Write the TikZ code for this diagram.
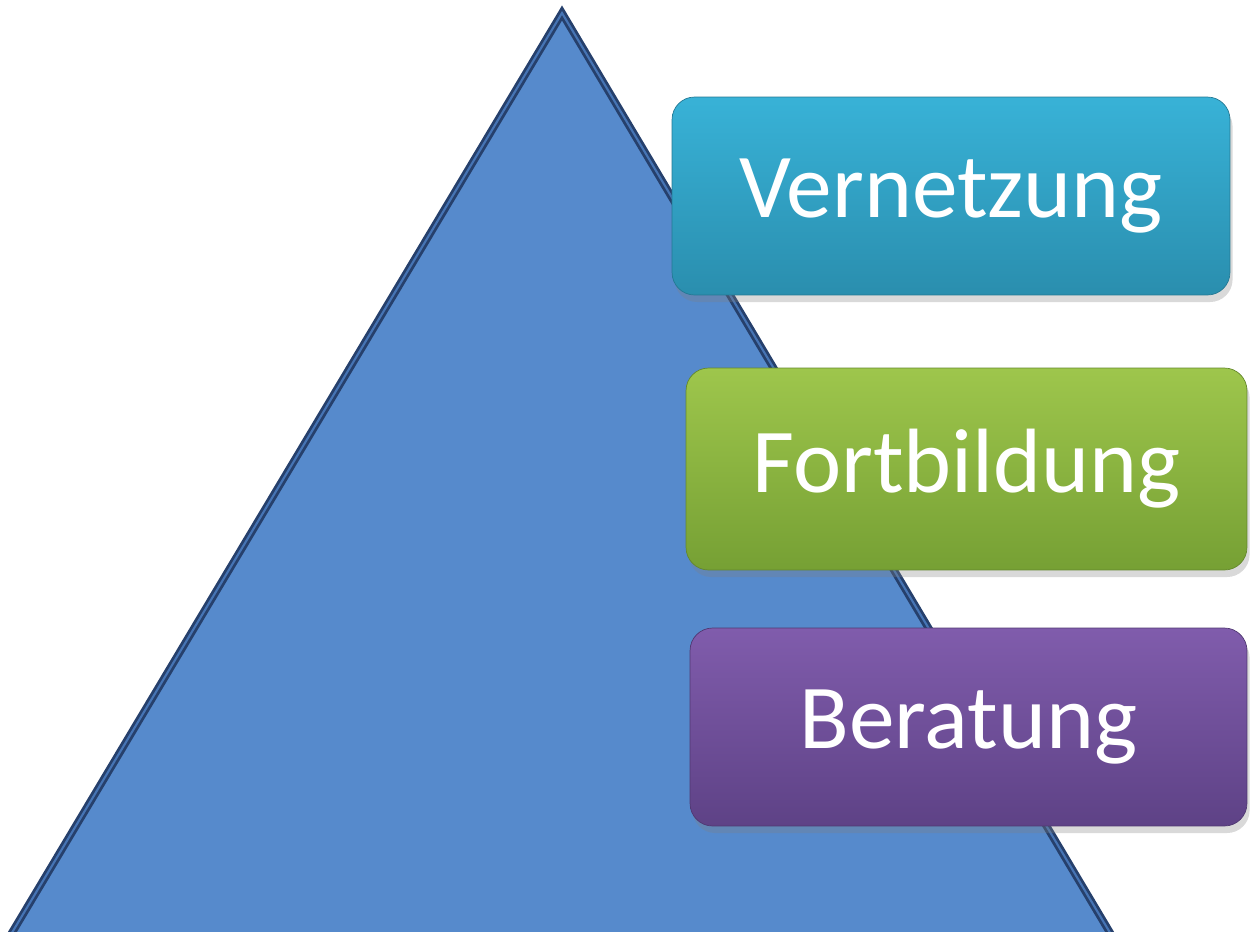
\documentclass[tikz,border=0pt]{standalone}
\usepackage{fontspec}
\setmainfont{Carlito}
\usetikzlibrary{shadows}
\definecolor{pyramid}{RGB}{86,138,204}
\definecolor{pyramidedge}{RGB}{38,64,108}
\definecolor{pyramidline}{RGB}{70,116,180}
\definecolor{cyantop}{RGB}{56,178,215}
\definecolor{cyanbot}{RGB}{42,142,174}
\definecolor{greentop}{RGB}{158,198,76}
\definecolor{greenbot}{RGB}{118,160,52}
\definecolor{violettop}{RGB}{128,92,172}
\definecolor{violetbot}{RGB}{94,66,134}

\begin{document}
\begin{tikzpicture}[
    x=0.02cm, y=-0.02cm,
    stage/.style 2 args={
        rounded corners=0.45cm,
        top color=#1,
        bottom color=#2,
        draw=#2!85!black,
        line width=0.4pt,
        text=white,
        font=\fontsize{52}{60}\selectfont,
        minimum height=4cm,
        drop shadow={shadow xshift=1.5pt, shadow yshift=-4pt, opacity=0.3}
    }
]
\useasboundingbox (0,0) rectangle (1251,931);

% === Pyramid ===
\begin{scope}
\clip (0,0) rectangle (1251,931);
\draw[fill=pyramid, draw=pyramidedge, line width=1.6pt, double=pyramidline, double distance=1.2pt,
      line join=miter]
    (562,13) -- (1112,936) -- (10,936) -- cycle;
\end{scope}

% === Stages ===
\node[stage={cyantop}{cyanbot}, minimum width=11.16cm, minimum height=3.96cm] (vernetzung) at (951,196) {Vernetzung};
\node[stage={greentop}{greenbot}, minimum width=11.22cm, minimum height=4.04cm] (fortbildung) at (966.5,469) {Fortbildung};
\node[stage={violettop}{violetbot}, minimum width=11.14cm, minimum height=3.96cm] (beratung) at (968.5,727) {\raisebox{-3pt}{Beratung}};

\end{tikzpicture}
\end{document}
